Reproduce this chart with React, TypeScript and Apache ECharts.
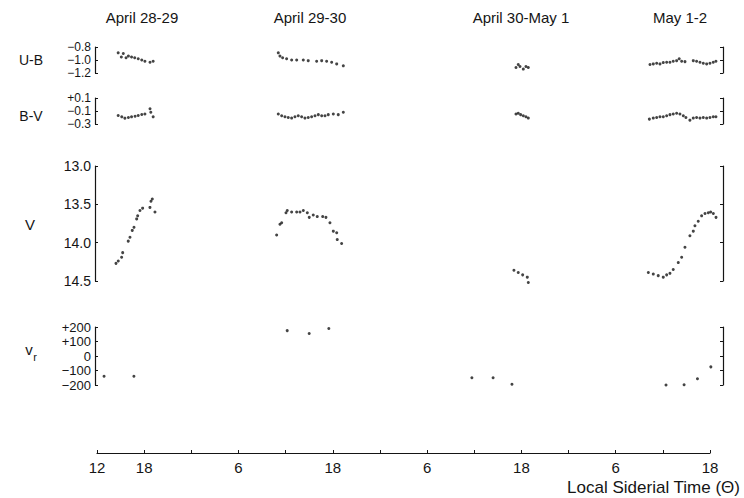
import React, { useEffect, useRef } from "react";
import * as echarts from "echarts";

// ---- data (hour of local sidereal time counted continuously from April 28, 0h) ----
const nightTitles = ["April 28-29", "April 29-30", "April 30-May 1", "May 1-2"];

const xTickValues = [12, 18, 30, 42, 54, 66, 78, 90];
const xTickLabels = ["12", "18", "6", "18", "6", "18", "6", "18"];

const ubApr28 = [[14.7, -0.89], [15.1, -0.955], [15.35, -0.9], [15.7, -0.965], [16.0, -0.94], [16.4, -0.955], [16.8, -0.965], [17.25, -0.98], [17.7, -1.0], [18.1, -1.02], [18.75, -1.035], [19.15, -1.02]];
const ubApr29 = [[35.07, -0.89], [35.28, -0.94], [35.62, -0.965], [36.13, -0.98], [36.77, -1.0], [37.41, -1.0], [38.25, -1.0], [38.88, -1.01], [39.95, -1.02], [40.59, -1.01], [41.22, -1.02], [41.86, -1.035], [42.5, -1.06], [43.34, -1.09]];
const ubApr30 = [[65.31, -1.115], [65.6, -1.07], [65.82, -1.1], [66.24, -1.14], [66.58, -1.1], [66.88, -1.115]];
const ubMay1 = [[82.36, -1.07], [82.78, -1.06], [83.21, -1.05], [83.63, -1.06], [84.05, -1.04], [84.48, -1.035], [84.9, -1.035], [85.32, -1.02], [85.75, -1.01], [86.08, -0.98], [86.39, -1.02], [86.81, -1.025], [87.87, -1.01], [88.29, -1.02], [88.72, -1.035], [89.14, -1.05], [89.57, -1.06], [89.99, -1.05], [90.41, -1.035], [90.75, -1.02]];

const bvApr28 = [[14.7, -0.17], [15.15, -0.19], [15.55, -0.21], [16.0, -0.2], [16.4, -0.19], [16.85, -0.18], [17.25, -0.17], [17.7, -0.155], [18.1, -0.145], [18.75, -0.065], [18.85, -0.12], [19.15, -0.19]];
const bvApr29 = [[35.07, -0.145], [35.5, -0.172], [35.92, -0.188], [36.34, -0.199], [36.77, -0.209], [37.19, -0.188], [37.61, -0.172], [38.04, -0.188], [38.46, -0.209], [38.88, -0.199], [39.31, -0.188], [39.74, -0.172], [40.16, -0.156], [40.59, -0.172], [41.01, -0.172], [41.43, -0.156], [42.07, -0.145], [42.7, -0.156], [43.34, -0.119]];
const bvApr30 = [[65.31, -0.145], [65.6, -0.135], [65.9, -0.156], [66.24, -0.172], [66.58, -0.188], [66.88, -0.209]];
const bvMay1 = [[82.28, -0.225], [82.78, -0.209], [83.21, -0.199], [83.63, -0.188], [84.05, -0.188], [84.48, -0.172], [84.9, -0.156], [85.32, -0.145], [85.75, -0.135], [86.17, -0.145], [86.6, -0.172], [86.93, -0.199], [87.44, -0.241], [87.87, -0.209], [88.29, -0.199], [88.72, -0.209], [89.14, -0.199], [89.57, -0.209], [89.99, -0.199], [90.41, -0.188], [90.75, -0.188]];

const vApr28 = [[14.42, 14.27], [14.71, 14.24], [15.14, 14.19], [15.27, 14.13], [15.98, 13.98], [16.2, 13.93], [16.49, 13.84], [16.71, 13.8], [17.05, 13.69], [17.18, 13.65], [17.47, 13.58], [17.81, 13.55], [18.74, 13.54], [18.87, 13.46], [19.04, 13.43], [19.38, 13.6]];
const vApr29 = [[34.86, 13.9], [35.28, 13.76], [35.5, 13.74], [36.05, 13.61], [36.21, 13.58], [36.77, 13.6], [37.41, 13.6], [37.83, 13.6], [38.25, 13.58], [38.76, 13.61], [39.01, 13.67], [39.52, 13.64], [40.03, 13.66], [40.72, 13.66], [41.13, 13.67], [41.64, 13.74], [42.07, 13.85], [42.5, 13.87], [42.57, 13.96], [43.13, 14.01]];
const vApr30 = [[65.05, 14.36], [65.6, 14.39], [66.16, 14.42], [66.75, 14.45], [66.88, 14.52]];
const vMay1 = [[82.15, 14.39], [82.78, 14.41], [83.41, 14.43], [84.05, 14.45], [84.48, 14.42], [84.9, 14.4], [85.32, 14.35], [85.96, 14.26], [86.39, 14.19], [86.81, 14.06], [87.44, 13.91], [87.87, 13.85], [88.08, 13.78], [88.5, 13.72], [88.93, 13.65], [89.36, 13.62], [89.78, 13.61], [90.08, 13.6], [90.42, 13.62], [90.76, 13.67]];

const vrApr28 = [[12.9, -140], [16.7, -140]];
const vrApr29 = [[36.2, 175], [39.0, 155], [41.5, 190]];
const vrApr30 = [[59.7, -150], [62.4, -150], [64.8, -195]];
const vrMay1 = [[84.4, -200], [86.7, -198], [88.4, -157], [90.1, -75]];

const FONT = "'Liberation Sans', Arial, Helvetica, sans-serif";
const INK = "#151515";

const minus = (s: string) => s.replace("-", "\u2212");

export default function App() {
  const ref = useRef<HTMLDivElement>(null);

  useEffect(() => {
    if (!ref.current) return;
    const chart = echarts.init(ref.current, undefined, { renderer: "svg" });

    const panelLeft = 95;
    const panelRight = 21;
    const grids = [
      { left: panelLeft, right: panelRight, top: 47, height: 26 },
      { left: panelLeft, right: panelRight, top: 98, height: 26 },
      { left: panelLeft, right: panelRight, top: 166, height: 115 },
      { left: panelLeft, right: panelRight, top: 327, height: 58 },
      { left: 97, width: 613, top: 440, height: 13 },
    ];

    const hiddenX = (i: number) => ({
      type: "value", gridIndex: i, min: 11.75, max: 91.65, show: false,
    });

    const axisLine = { show: true, lineStyle: { color: INK, width: 1.2 } };

    const leftY = (i: number, min: number, max: number, interval: number, inverse: boolean, fmt: (v: number) => string, fs: number, lh: number) => ({
      type: "value", gridIndex: i, position: "left", min, max, interval, inverse,
      axisLine, splitLine: { show: false },
      axisTick: { show: true, inside: true, length: 3, lineStyle: { color: INK } },
      axisLabel: {
        color: INK, fontFamily: FONT, fontSize: fs, lineHeight: lh, margin: 4,
        showMinLabel: true, showMaxLabel: true, hideOverlap: false, formatter: fmt,
      },
    });
    const rightY = (i: number, min: number, max: number, interval: number, inverse: boolean) => ({
      type: "value", gridIndex: i, position: "right", min, max, interval, inverse,
      axisLine, splitLine: { show: false },
      axisTick: { show: true, inside: true, length: 3, lineStyle: { color: INK } },
      axisLabel: { show: false },
    });

    const fmtUB = (v: number) => minus(v.toFixed(1));
    const fmtBV = (v: number) => (v > 0.0001 ? "+" + v.toFixed(1) : minus(v.toFixed(1)));
    const fmtV = (v: number) => v.toFixed(1);
    const fmtVr = (v: number) => (v > 0 ? "+" + Math.round(v) : minus(String(Math.round(v))));

    const sc = (data: number[][], xi: number, yi: number) => ({
      type: "scatter", xAxisIndex: xi, yAxisIndex: yi, data,
      symbol: "circle", symbolSize: 3, clip: false,
      itemStyle: { color: INK }, silent: true,
    });

    const textEl = (text: string, x: number, y: number, fontSize: number, align = "center") => ({
      type: "text", x, y, silent: true,
      style: {
        text, fill: INK, font: `${fontSize}px ${FONT}`, fontSize, fontFamily: FONT,
        textAlign: align, align, textVerticalAlign: "middle", verticalAlign: "middle",
      },
    });

    const titleX = [142, 310, 521, 680];

    const option: any = {
      animation: false,
      backgroundColor: "#ffffff",
      grid: grids,
      xAxis: [
        hiddenX(0), hiddenX(1), hiddenX(2), hiddenX(3),
        {
          type: "value", gridIndex: 4, min: 12, max: 90, interval: 6,
          axisLine: { show: true, lineStyle: { color: INK, width: 1.2 } },
          axisTick: { show: true, inside: true, length: 3, lineStyle: { color: INK } },
          splitLine: { show: false },
          axisLabel: {
            color: INK, fontFamily: FONT, fontSize: 15, margin: 7, showMinLabel: true, showMaxLabel: true,
            formatter: (v: number) => {
              const k = xTickValues.findIndex((t) => Math.abs(t - v) < 1e-6);
              return k >= 0 ? xTickLabels[k] : "";
            },
          },
        },
      ],
      yAxis: [
        leftY(0, -1.2, -0.8, 0.2, false, fmtUB, 12, 12),
        leftY(1, -0.3, 0.1, 0.2, false, fmtBV, 12, 12),
        leftY(2, 13.0, 14.5, 0.5, true, fmtV, 14, 16),
        leftY(3, -200, 200, 100, false, fmtVr, 13, 13),
        { type: "value", gridIndex: 4, show: false, min: 0, max: 1 },
        rightY(0, -1.2, -0.8, 0.2, false),
        rightY(1, -0.3, 0.1, 0.2, false),
        rightY(2, 13.0, 14.5, 0.5, true),
        rightY(3, -200, 200, 100, false),
      ],
      series: [
        sc(ubApr28, 0, 0), sc(ubApr29, 0, 0), sc(ubApr30, 0, 0), sc(ubMay1, 0, 0),
        sc(bvApr28, 1, 1), sc(bvApr29, 1, 1), sc(bvApr30, 1, 1), sc(bvMay1, 1, 1),
        sc(vApr28, 2, 2), sc(vApr29, 2, 2), sc(vApr30, 2, 2), sc(vMay1, 2, 2),
        sc(vrApr28, 3, 3), sc(vrApr29, 3, 3), sc(vrApr30, 3, 3), sc(vrMay1, 3, 3),
      ],
      graphic: [
        ...nightTitles.map((t, i) => textEl(t, titleX[i], 17, 15)),
        textEl("U-B", 31, 60, 14),
        textEl("B-V", 31, 116, 14),
        textEl("V", 30, 224, 15),
        textEl("v", 29, 349, 15),
        textEl("r", 35, 357, 11),
        textEl("Local Siderial Time (\u0398)", 740, 487, 17, "right"),
      ],
    };

    chart.setOption(option);
    return () => chart.dispose();
  }, []);

  return (
    <div
      ref={ref}
      style={{ position: "absolute", left: 0, top: 0, width: 744, height: 498, background: "#fff" }}
    />
  );
}
